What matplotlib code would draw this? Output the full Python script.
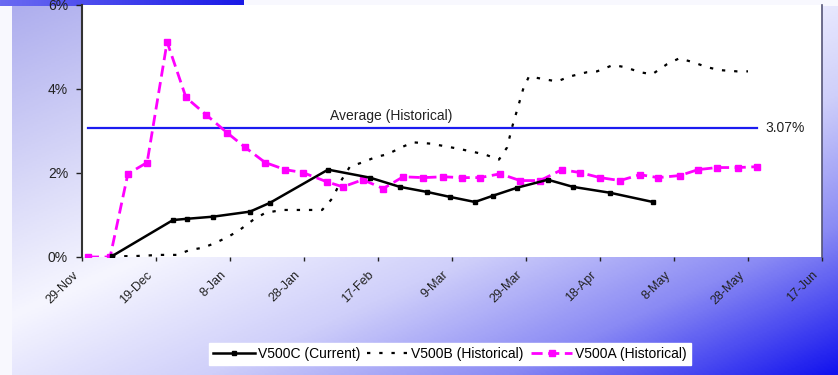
# =============================================================================
# 1. IMPORTS
# =============================================================================

import numpy as np
import matplotlib.pyplot as plt
from matplotlib.colors import LinearSegmentedColormap
from matplotlib.transforms import ScaledTranslation

plt.rcParams["font.family"] = ["Liberation Sans", "DejaVu Sans"]


# =============================================================================
# 2. DATA (days after 29-Nov, value in %)
# =============================================================================

tick_days = [0, 20, 40, 60, 80, 100, 120, 140, 160, 180, 200]
tick_labels = ["29-Nov", "19-Dec", "8-Jan", "28-Jan", "17-Feb", "9-Mar",
               "29-Mar", "18-Apr", "8-May", "28-May", "17-Jun"]

# V500C (Current)
dias_c = [8.1, 24.6, 28.4, 35.4, 45.4, 50.8, 66.5, 77.8, 85.9, 93.2, 99.5,
          106.2, 111.1, 117.6, 125.9, 132.7, 142.7, 154.3]
valores_c = [0.02, 0.88, 0.91, 0.96, 1.08, 1.29, 2.08, 1.89, 1.67, 1.55, 1.43,
             1.31, 1.46, 1.65, 1.84, 1.67, 1.53, 1.31]

# V500B (Historical)
dias_b = [8.1, 13.8, 21.1, 25.7, 29.2, 32.7, 35.9, 39.5, 42.7, 46.2, 49.5,
          54.1, 58.9, 64.9, 67.8, 69.7, 72.4, 75.7, 79.7, 82.4, 86.8, 89.5,
          94.1, 97.3, 101.6, 105.4, 108.9, 112.7, 114.9, 116.2, 117.8, 119.2,
          120.8, 125.1, 128.4, 131.9, 136.5, 139.2, 143.5, 146.8, 150.8, 154.1,
          158.1, 161.4, 165.1, 168.9, 172.4, 177.0, 180.0]
valores_b = [0.02, 0.02, 0.05, 0.05, 0.17, 0.22, 0.33, 0.48, 0.65, 0.88, 1.05,
             1.12, 1.12, 1.12, 1.41, 1.77, 2.15, 2.25, 2.39, 2.44, 2.63, 2.73,
             2.70, 2.65, 2.58, 2.51, 2.44, 2.32, 2.61, 3.08, 3.56, 3.99,
             4.30, 4.23, 4.18, 4.30, 4.40, 4.42, 4.57, 4.52, 4.40, 4.35,
             4.59, 4.73, 4.64, 4.52, 4.45, 4.42, 4.42]

# V500A (Historical)
dias_a = [1.6, 7.6, 12.4, 17.6, 23.0, 28.1, 33.5, 39.2, 44.1, 49.5, 54.9,
          59.7, 66.2, 70.5, 75.9, 81.4, 86.8, 92.2, 97.6, 102.7, 107.6, 113.0,
          118.4, 123.8, 129.7, 134.6, 140.0, 145.4, 150.8, 155.7, 161.6, 166.5,
          171.6, 177.3, 182.4]
valores_a = [0.0, 0.0, 1.98, 2.25, 5.12, 3.80, 3.39, 2.96, 2.61, 2.25, 2.08,
             2.01, 1.79, 1.67, 1.84, 1.63, 1.91, 1.89, 1.91, 1.89, 1.89, 1.98,
             1.82, 1.82, 2.08, 2.01, 1.89, 1.82, 1.96, 1.89, 1.94, 2.08,
             2.13, 2.13, 2.15]

media_hist = 3.07


# =============================================================================
# 3. FIGURE + GRADIENT BACKGROUND
# =============================================================================

W, H = 838, 375
fig = plt.figure(figsize=(W / 100, H / 100), dpi=100)
fig.patch.set_facecolor("#f8f8fe")

cmap_fundo = LinearSegmentedColormap.from_list(
    "fundo",
    [(0.0, "#aeaeee"), (0.42, "#f6f6ff"), (0.62, "#cfcffa"),
     (0.8, "#8a8af4"), (1.0, "#1212ee")]
)

gx, gy = np.meshgrid(np.linspace(0, 1, 400), np.linspace(0, 1, 200))
grad = 0.5 * (gx + gy)

ax_bg = fig.add_axes([12 / W, 0, 1 - 12 / W, 1 - 6 / H])
ax_bg.imshow(grad, cmap=cmap_fundo, aspect="auto", vmin=0, vmax=1,
             extent=[0, 1, 1, 0])
ax_bg.set_axis_off()

# blue title strip at the top left
ax_bar = fig.add_axes([0, 1 - 6 / H, 243 / W, 6 / H])
ax_bar.imshow(np.linspace(0, 1, 100)[None, :],
              cmap=LinearSegmentedColormap.from_list("barra", ["#6a6af2", "#1a1ae6"]),
              aspect="auto")
ax_bar.set_axis_off()


# =============================================================================
# 4. PLOT AREA
# =============================================================================

ax = fig.add_axes([82 / W, 1 - 257 / H, 740 / W, 252 / H])
ax.set_facecolor("white")

ax.plot(dias_c, valores_c, color="black", linewidth=1.8, marker="s",
        markersize=2.5, label="V500C (Current)", zorder=4)
ax.plot(dias_b, valores_b, color="black", linewidth=1.6,
        linestyle=(0, (1.5, 4)), label="V500B (Historical)", zorder=3)
ax.plot(dias_a, valores_a, color="#ff00ff", linewidth=2.0,
        linestyle=(0, (4, 2)), marker="s", markersize=4.5,
        label="V500A (Historical)", zorder=3)

# historical average line
ax.plot([dias_a[0], dias_a[-1]], [media_hist, media_hist], color="#1c1cf0",
        linewidth=1.6, zorder=2)
ax.text(83.5, media_hist + 0.12, "Average (Historical)", fontsize=10,
        ha="center", va="bottom", color="#222222")
ax.text(dias_a[-1] + 2.2, media_hist, f"{media_hist:.2f}%", fontsize=10,
        ha="left", va="center", color="#222222")

ax.set_xlim(0, 200)
ax.set_ylim(0, 6)
ax.set_yticks([0, 2, 4, 6])
ax.set_yticklabels([f"{v}%" for v in [0, 2, 4, 6]], fontsize=10)
ax.set_xticks(tick_days)
ax.set_xticklabels([])

# date labels, slanted, sitting below and left of each tick
desloc = ScaledTranslation(-10 / 100, -12 / 100, fig.dpi_scale_trans)
for d, txt in zip(tick_days, tick_labels):
    ax.text(d, 0, txt, fontsize=9, rotation=45, ha="right", va="top",
            rotation_mode="anchor", color="#222222", clip_on=False,
            transform=ax.get_xaxis_transform() + desloc)

ax.tick_params(axis="y", length=4, width=1, pad=6, colors="#222222")
ax.tick_params(axis="x", length=3, width=1, pad=0, colors="#222222")

ax.spines["top"].set_visible(False)
ax.spines["bottom"].set_visible(False)
ax.spines["left"].set_color("#333333")
ax.spines["left"].set_linewidth(1.5)
ax.spines["right"].set_color("#555577")
ax.spines["right"].set_linewidth(1.2)


# =============================================================================
# 5. LEGEND
# =============================================================================

leg = fig.legend(loc="center", bbox_to_anchor=(450 / W, 1 - 354 / H), ncol=3,
                 fontsize=10, frameon=True, fancybox=False, handlelength=3.0,
                 handletextpad=0.2, columnspacing=0.5, borderpad=0.3)
leg.get_frame().set_facecolor("white")
leg.get_frame().set_edgecolor("white")
leg.get_frame().set_alpha(1)

fig.savefig("out.png", dpi=100)
